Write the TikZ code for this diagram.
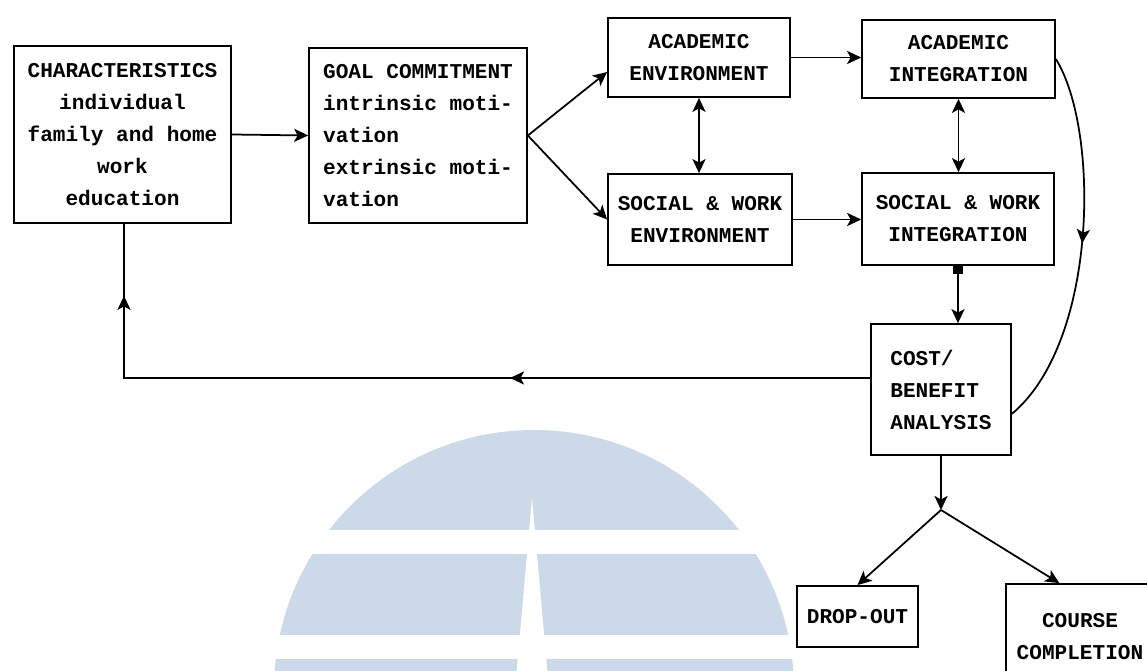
\documentclass[tikz,border=0pt]{standalone}
\usepackage{fontspec}
\newfontfamily\boxfont{Liberation Mono}[WordSpace={1,0,0}]
\usetikzlibrary{arrows.meta,calc,decorations.markings}
\definecolor{markblue}{RGB}{204,217,232}

\begin{document}
\begin{tikzpicture}[x=0.02cm, y=-0.02cm, >={Stealth[length=8pt,width=7.5pt,inset=2pt]},
    box/.style={draw, line width=1pt, inner sep=0pt, align=center,
      font=\boxfont\bfseries\fontsize{12}{18.2}\selectfont},
    link/.style={line width=1pt},
    mid arrow/.style={postaction={decorate},
      decoration={markings, mark=at position #1 with {\arrow{>}}}}]
        \useasboundingbox (0,0) rectangle (1147,671);

        % watermark in the background
        \fill[markblue] (534,690) circle[radius=260];
        \fill[white] (250,530) rectangle (820,554);
        \fill[white] (250,635) rectangle (820,659);
        \fill[white] (532,498) -- (515,690) -- (549,690) -- cycle;

        \node[box, minimum width=4.34cm, minimum height=3.54cm] (chars) at (122.5,134.5)
          {CHARACTERISTICS\\individual\\family and home\\work\\education};
        \node[box, minimum width=4.36cm, minimum height=3.5cm, align=left] (goal) at (418,135.5)
          {GOAL COMMITMENT\\intrinsic moti-\\vation\\extrinsic moti-\\vation};
        \node[box, minimum width=3.64cm, minimum height=1.58cm] (acEnv) at (699,57.5)
          {ACADEMIC\\ENVIRONMENT};
        \node[box, minimum width=3.68cm, minimum height=1.82cm] (soEnv) at (700,219.5)
          {SOCIAL \& WORK\\ENVIRONMENT};
        \node[box, minimum width=3.86cm, minimum height=1.56cm] (acInt) at (958.5,59)
          {ACADEMIC\\INTEGRATION};
        \node[box, minimum width=3.84cm, minimum height=1.84cm] (soInt) at (958,219)
          {SOCIAL \& WORK\\INTEGRATION};
        \node[box, minimum width=2.8cm, minimum height=2.62cm, align=left] (cost) at (941,389.5)
          {COST/\\BENEFIT\\ANALYSIS};
        \node[box, minimum width=2.42cm, minimum height=1.22cm] (drop) at (857.5,616.5)
          {DROP-OUT};
        \node[box, minimum width=2.96cm, minimum height=2.12cm] (course) at (1080,637)
          {COURSE\\COMPLETION};

        \draw[link, ->] (chars.east) -- (goal.west);
        \draw[link, ->] (goal.east) -- (acEnv.189);
        \draw[link, ->] (goal.east) -- (soEnv.west);
        \draw[link, ->] (acEnv.east) -- (acEnv.east -| acInt.west);
        \draw[link, ->] (soEnv.east) -- (soEnv.east -| soInt.west);
        \draw[link, <->] (acEnv.south) -- (acEnv.south |- soEnv.north);
        \draw[link, <->] (acInt.south) -- (acInt.south |- soInt.north);
        \draw[link, {Square[length=4.5pt,width=5.5pt]}->] (soInt.south) -- (soInt.south |- cost.north);
        \draw[link, mid arrow=0.5] (acInt.east) .. controls (1100,130) and (1098,342) .. (cost.-19);

        % feedback loop back to the characteristics
        \coordinate (turn) at (124,378);
        \draw[link, postaction={decorate}, decoration={markings,
            mark=at position 0.4 with {\arrow{>}}, mark=at position 0.92 with {\arrow{>}}}]
          (cost.west |- turn) -- (turn) -- (turn |- chars.south);

        % outcome
        \coordinate (split) at (941,510);
        \draw[link, ->] (cost.south) -- (split);
        \draw[link, ->] (split) -- (drop.north);
        \draw[link, ->] (split) -- (course.111);
    \end{tikzpicture}
\end{document}
